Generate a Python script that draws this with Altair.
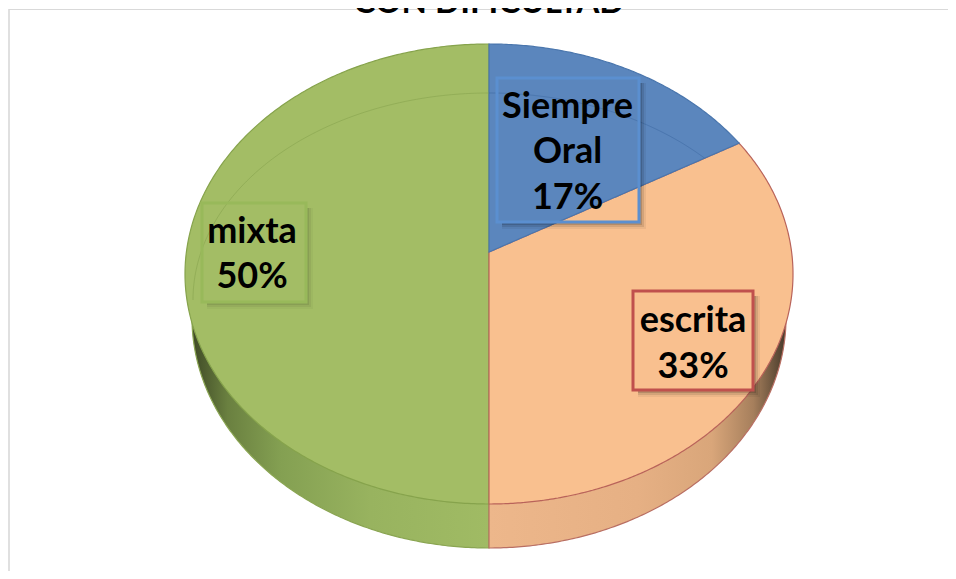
import numpy as np
import pandas as pd
import altair as alt

# ---- chart values ----
TITLE = "CON DIFICULTAD"
categories = ["Siempre Oral", "escrita", "mixta"]
counts = [1, 2, 3]
label_lines = [["Siempre", "Oral", "17%"], ["escrita", "33%"], ["mixta", "50%"]]
FONT = "Lato"

# ---- scene geometry (screen frame of the pie) ----
W, H = 940, 563
CX, CY, RX, RY = 489, 274, 304, 230          # top face outline
AY = 252                                     # pie centre seen in perspective
BX, BCY, BRY = 297, 318, 230                 # bottom rim of the wall
RING = (296, 300, 207)

xs = alt.Scale(domain=[8, 8 + W], range=[0, W], nice=False, zero=False)
ys = alt.Scale(domain=[8 + H, 8], range=[H, 0], nice=False, zero=False)
X = lambda f="x": alt.X(f"{f}:Q", scale=xs, axis=None)
Y = lambda f="y": alt.Y(f"{f}:Q", scale=ys, axis=None)

# perspective mapping of a pie angle onto the face
a, b, p = 228.0, 302.6, 0.0957
def project(share):
    t = 2 * np.pi * share
    u, v = np.sin(t), np.cos(t)
    w = 1 + p * v
    return CX + b * u / w, AY - a * v / w

total = sum(counts)
xb, yb = project(counts[0] / total)

phi = np.linspace(0, np.pi / 2, 160)
def upper(x):
    return CY - RY * np.sqrt(np.clip(1 - ((x - CX) / RX) ** 2, 0, 1))
def lower(x):
    return CY + RY * np.sqrt(np.clip(1 - ((x - CX) / RX) ** 2, 0, 1))
def edge(x):
    return AY + (yb - AY) * (x - CX) / (xb - CX)

# green half
gx = CX - RX * np.sin(phi[::-1])
green = pd.DataFrame({"x": gx, "y": upper(gx), "y2": lower(gx)})
# blue wedge
t_end = np.arcsin((xb - CX) / RX)
bx = CX + RX * np.sin(np.linspace(0, t_end, 120))
blue = pd.DataFrame({"x": bx, "y": upper(bx), "y2": edge(bx)})
# orange wedge
ox = np.concatenate([np.linspace(CX, xb, 30), CX + RX * np.sin(np.linspace(0, np.pi / 2, 200))])
ox = np.unique(ox)
orange = pd.DataFrame({"x": ox, "y": np.where(ox < xb, edge(ox), upper(ox)), "y2": lower(ox)})

# walls
wgx = CX - BX * np.sin(phi[::-1])
wox = CX + BX * np.sin(phi)
wall_y = lambda x: BCY + BRY * np.sqrt(np.clip(1 - ((x - CX) / BX) ** 2, 0, 1))
wall_g = pd.DataFrame({"x": wgx, "y": np.full_like(wgx, BCY), "y2": wall_y(wgx)})
wall_o = pd.DataFrame({"x": wox, "y": np.full_like(wox, BCY), "y2": wall_y(wox)})

grad_g = alt.Gradient(gradient="linear", x1=0, x2=1, y1=0, y2=0, stops=[
    alt.GradientStop(color="#3f4a26", offset=0.0),
    alt.GradientStop(color="#6a8040", offset=0.12),
    alt.GradientStop(color="#84a052", offset=0.3),
    alt.GradientStop(color="#98b35f", offset=0.6),
    alt.GradientStop(color="#a0bb64", offset=1.0)])
grad_o = alt.Gradient(gradient="linear", x1=0, x2=1, y1=0, y2=0, stops=[
    alt.GradientStop(color="#edb78b", offset=0.0),
    alt.GradientStop(color="#e6b084", offset=0.5),
    alt.GradientStop(color="#d9a67a", offset=0.75),
    alt.GradientStop(color="#a67f5c", offset=0.89),
    alt.GradientStop(color="#46392a", offset=1.0)])

def area(df, color, stroke):
    return alt.Chart(df).mark_area(color=color, stroke=stroke, strokeWidth=1.2).encode(
        x=X(), y=Y(), y2="y2:Q")

layers = []

# frame
frame_top = pd.DataFrame({"x": [9], "x2": [948], "y": [9.5]})
frame_left = pd.DataFrame({"x": [9], "y": [9], "y2": [571]})
layers.append(alt.Chart(frame_top).mark_rule(color="#d9d9d9", strokeWidth=1).encode(x=X(), x2="x2:Q", y=Y()))
layers.append(alt.Chart(frame_left).mark_rule(color="#d9d9d9", strokeWidth=1.6).encode(x=X(), y=Y(), y2="y2:Q"))

# title, cut by the top edge as in the source
title_df = pd.DataFrame({"x": [489], "y": [13], "t": [TITLE]})
layers.append(alt.Chart(title_df).mark_text(font=FONT, fontWeight="bold", fontSize=33, color="#000000",
                                            baseline="alphabetic", align="center").encode(x=X(), y=Y(), text="t:N"))

layers += [area(wall_g, grad_g, "#8aa552"), area(wall_o, grad_o, "#b96f63")]
layers += [area(green, "#a3bd65", "#86a34c"), area(orange, "#f9c08f", "#b9635a"), area(blue, "#5b86bd", "#4a76ad")]

# faint bevel ring on the face
ring_rx, ring_cy, ring_ry = RING
rgx = CX - ring_rx * np.sin(phi[::-1])
ring_up = lambda x: ring_cy - ring_ry * np.sqrt(np.clip(1 - ((x - CX) / ring_rx) ** 2, 0, 1))
ring_g = pd.DataFrame({"x": rgx, "y": ring_up(rgx)})
rbx = np.linspace(CX, CX + ring_rx * 0.999, 300)
rbx = rbx[ring_up(rbx) < edge(rbx)]
ring_b = pd.DataFrame({"x": rbx, "y": ring_up(rbx)})
layers.append(alt.Chart(ring_g).mark_line(color="#7f9b48", strokeWidth=1, opacity=0.45).encode(x=X(), y=Y()))
layers.append(alt.Chart(ring_b).mark_line(color="#3f6ba3", strokeWidth=1, opacity=0.6).encode(x=X(), y=Y()))

# label boxes: left, right, top, bottom, stroke, shadow strength
boxes = [(497, 639, 78, 222, "#5b8fd0", 0.14), (633, 753, 291, 390, "#c0504d", 0.14), (202, 306, 203, 302, "#98b95a", 0.08)]
lines_x = [567.5, 693, 252]
lines_y = [[118, 163, 209], [332, 378], [243, 288]]
FONT_SIZE = 36

for (l, r, t, bt, col, sh) in boxes:
    for off, op in ((3, sh), (5, sh * 0.7), (7, sh * 0.4)):
        s1 = pd.DataFrame({"x": [r + 1], "x2": [r + off], "y": [t + 5], "y2": [bt + off]})
        s2 = pd.DataFrame({"x": [l + 5], "x2": [r + 1], "y": [bt + 1], "y2": [bt + off]})
        for s in (s1, s2):
            layers.append(alt.Chart(s).mark_rect(color="#000000", opacity=op).encode(x=X(), x2="x2:Q", y=Y(), y2="y2:Q"))
    box = pd.DataFrame({"x": [l], "x2": [r], "y": [t], "y2": [bt]})
    layers.append(alt.Chart(box).mark_rect(fillOpacity=0, stroke=col, strokeWidth=3).encode(x=X(), x2="x2:Q", y=Y(), y2="y2:Q"))

for lines, cx, ylist in zip(label_lines, lines_x, lines_y):
    df = pd.DataFrame({"x": [cx] * len(lines), "y": ylist, "t": lines})
    layers.append(alt.Chart(df).mark_text(font=FONT, fontWeight="bold", fontSize=FONT_SIZE, color="#000000",
                                          baseline="alphabetic", align="center").encode(x=X(), y=Y(), text="t:N"))

chart = alt.layer(*layers).properties(
    width=W, height=H, padding=0, autosize=alt.AutoSizeParams(type="none"), background="#ffffff"
).configure_view(stroke=None)

chart.save("out.html", embed_options={"renderer": "svg", "actions": False})
